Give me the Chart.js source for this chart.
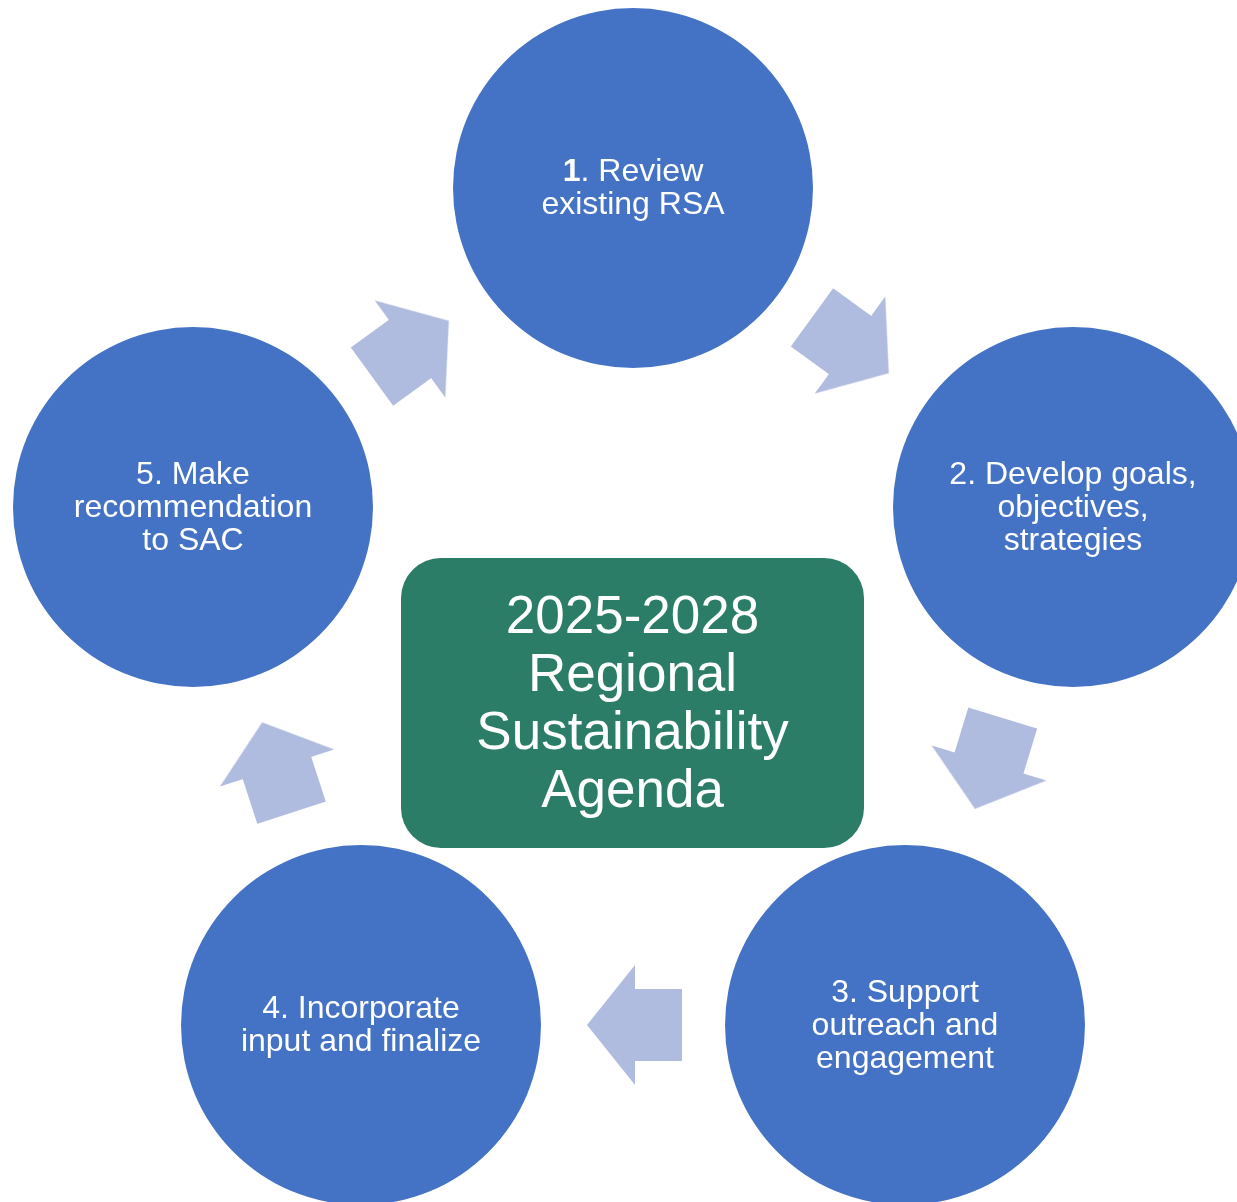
<!DOCTYPE html>
<html>
<head>
<meta charset="utf-8">
<script src="https://cdn.jsdelivr.net/npm/chart.js@4"></script>
<style>
  html, body { margin: 0; padding: 0; background: #ffffff; }
  canvas { display: block; }
</style>
</head>
<body>
<canvas id="cycleChart" width="1237" height="1202"></canvas>
<script>
// steps of the cycle (circle centres in diagram units)
var stepX = [633, 1073, 905, 361, 193];
var stepY = [188, 507, 1025, 1025, 507];
var stepBold = ['1', '', '', '', ''];
var stepLines = [
    ['. Review', 'existing RSA'],
    ['2. Develop goals,', 'objectives,', 'strategies'],
    ['3. Support', 'outreach and', 'engagement'],
    ['4. Incorporate', 'input and finalize'],
    ['5. Make', 'recommendation', 'to SAC']
];

// arrows between steps (centre + direction in degrees)
var arrowX = [850, 989, 635, 277, 410];
var arrowY = [345, 763, 1025, 768, 349];
var arrowAngle = [36, 107, 180, -108, -36];

// centre box
var boxX = [401, 864];
var boxY = [558, 848];
var centerLines = ['2025-2028', 'Regional', 'Sustainability', 'Agenda'];

var FONT = '"Liberation Sans", Arial, sans-serif';

// block arrow pointing right, drawn once and rotated per point
function makeArrow() {
    var c = document.createElement('canvas');
    c.width = 130;
    c.height = 130;
    var g = c.getContext('2d');
    g.translate(65, 65);
    g.fillStyle = '#b0bcdf';
    g.beginPath();
    g.moveTo(-47, -36);
    g.lineTo(0, -36);
    g.lineTo(0, -60);
    g.lineTo(48, 0);
    g.lineTo(0, 60);
    g.lineTo(0, 36);
    g.lineTo(-47, 36);
    g.closePath();
    g.fill();
    return c;
}

var labelPlugin = {
    id: 'labels',
    afterDatasetsDraw: function(chart) {
        var ctx = chart.ctx;
        var xs = chart.scales.x, ys = chart.scales.y;
        ctx.save();

        // centre rounded box
        var x0 = xs.getPixelForValue(boxX[0]), x1 = xs.getPixelForValue(boxX[1]);
        var y0 = ys.getPixelForValue(boxY[0]), y1 = ys.getPixelForValue(boxY[1]);
        ctx.fillStyle = '#2c7d67';
        ctx.beginPath();
        ctx.roundRect(x0, y0, x1 - x0, y1 - y0, 40);
        ctx.fill();

        ctx.fillStyle = '#ffffff';
        ctx.textAlign = 'center';
        ctx.textBaseline = 'middle';
        ctx.font = '53px ' + FONT;
        var cx = (x0 + x1) / 2, cy = (y0 + y1) / 2 + 2;
        for (var i = 0; i < centerLines.length; i++) {
            ctx.fillText(centerLines[i], cx, cy + (i - (centerLines.length - 1) / 2) * 58);
        }

        // step labels
        for (var s = 0; s < stepLines.length; s++) {
            var px = xs.getPixelForValue(stepX[s]);
            var py = ys.getPixelForValue(stepY[s]) + 1;
            var lines = stepLines[s];
            for (var j = 0; j < lines.length; j++) {
                var ly = py + (j - (lines.length - 1) / 2) * 33;
                if (j == 0 && stepBold[s]) {
                    ctx.font = 'bold 32px ' + FONT;
                    var bw = ctx.measureText(stepBold[s]).width;
                    ctx.font = '32px ' + FONT;
                    var rw = ctx.measureText(lines[j]).width;
                    var left = px - (bw + rw) / 2;
                    ctx.textAlign = 'left';
                    ctx.font = 'bold 32px ' + FONT;
                    ctx.fillText(stepBold[s], left, ly);
                    ctx.font = '32px ' + FONT;
                    ctx.fillText(lines[j], left + bw, ly);
                    ctx.textAlign = 'center';
                } else {
                    ctx.font = '32px ' + FONT;
                    ctx.fillText(lines[j], px, ly);
                }
            }
        }
        ctx.restore();
    }
};

var arrowImg = makeArrow();

new Chart(document.getElementById('cycleChart'), {
    type: 'scatter',
    data: {
        datasets: [
            {
                label: 'Steps',
                data: stepX.map(function(x, i) { return { x: x, y: stepY[i] }; }),
                pointRadius: 180,
                pointHoverRadius: 180,
                pointBackgroundColor: '#4472c4',
                pointBorderWidth: 0,
                borderWidth: 0,
                clip: false
            },
            {
                label: 'Arrows',
                data: arrowX.map(function(x, i) { return { x: x, y: arrowY[i] }; }),
                pointStyle: arrowImg,
                rotation: arrowAngle,
                pointRadius: 60,
                clip: false
            }
        ]
    },
    options: {
        responsive: false,
        animation: false,
        layout: { padding: 0, autoPadding: false },
        plugins: {
            legend: { display: false },
            tooltip: { enabled: false }
        },
        events: [],
        scales: {
            x: { type: 'linear', min: 0, max: 1237, display: false },
            y: { type: 'linear', min: 0, max: 1202, reverse: true, display: false }
        }
    },
    plugins: [labelPlugin]
});
</script>
</body>
</html>
